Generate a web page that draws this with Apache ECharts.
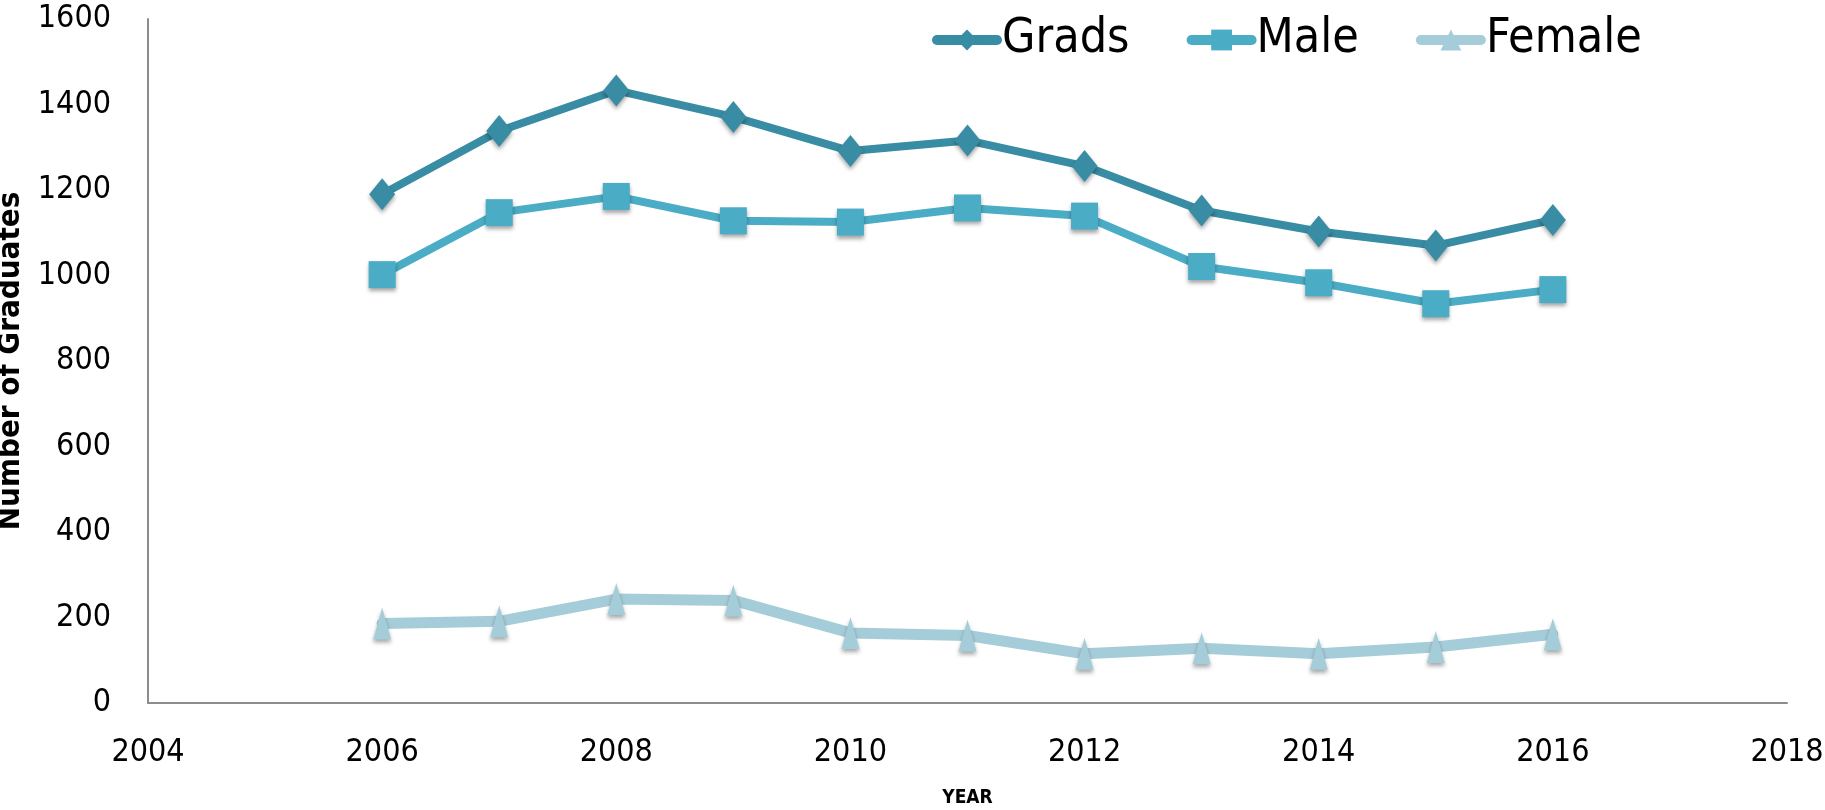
<!DOCTYPE html>
<html>
<head>
<meta charset="utf-8">
<script src="https://cdn.jsdelivr.net/npm/echarts@6/dist/echarts.min.js"></script>
<style>
  html, body { margin: 0; padding: 0; background: #fff; }
  #chart { width: 1825px; height: 810px; }
</style>
</head>
<body>
<div id="chart"></div>
<script>
// values
const years = [2006, 2007, 2008, 2009, 2010, 2011, 2012, 2013, 2014, 2015, 2016];
const grads = [1190, 1338, 1433, 1371, 1291, 1316, 1256, 1152, 1103, 1070, 1130];
const male = [1002, 1147, 1185, 1128, 1125, 1158, 1139, 1021, 983, 934, 967];
const female = [186, 191, 243, 240, 164, 158, 115, 128, 115, 131, 161];

const pairs = (vals) => years.map((y, i) => [y, vals[i]]);
const narrow = "'DejaVu Sans Condensed', 'Liberation Sans', sans-serif";

const shadow = {
  shadowBlur: 4,
  shadowOffsetY: 3,
  shadowColor: "rgba(0,0,0,0.35)"
};

const chart = echarts.init(document.getElementById("chart"));

chart.setOption({
  animation: false,
  grid: { left: 148, right: 38, top: 19, bottom: 107, outerBoundsMode: "none" },
  legend: {
    left: 927,
    top: 11,
    itemWidth: 60,
    itemHeight: 26,
    itemGap: 57,
    lineStyle: { width: 10, cap: "round" },
    textStyle: {
      fontFamily: narrow,
      fontSize: 48,
      color: "#000"
    },
    data: ["Grads", "Male", "Female"]
  },
  xAxis: {
    type: "value",
    min: 2004,
    max: 2018,
    interval: 2,
    name: "YEAR",
    nameLocation: "middle",
    nameGap: 86,
    nameTextStyle: {
      fontFamily: narrow,
      fontWeight: "bold",
      fontSize: 19,
      color: "#000"
    },
    axisLine: { lineStyle: { color: "#8c8c8c", width: 2 } },
    axisTick: { show: false },
    splitLine: { show: false },
    axisLabel: {
      margin: 34,
      fontFamily: narrow,
      fontSize: 32,
      color: "#000",
      formatter: (v) => String(v)
    }
  },
  yAxis: {
    type: "value",
    min: 0,
    max: 1600,
    interval: 200,
    name: "Number of Graduates",
    nameLocation: "middle",
    nameGap: 118,
    nameTextStyle: {
      fontFamily: narrow,
      fontWeight: "bold",
      fontSize: 31,
      color: "#000"
    },
    axisLine: { show: true, lineStyle: { color: "#8c8c8c", width: 2 } },
    axisTick: { show: false },
    splitLine: { show: false },
    axisLabel: {
      margin: 37,
      fontFamily: narrow,
      fontSize: 32,
      color: "#000",
      formatter: (v) => String(v)
    }
  },
  series: [
    {
      name: "Grads",
      type: "line",
      data: pairs(grads),
      symbol: "diamond",
      symbolSize: [26, 32],
      lineStyle: { color: "#388ca3", width: 8, cap: "round" },
      itemStyle: Object.assign({ color: "#388ca3" }, shadow),
      z: 4
    },
    {
      name: "Male",
      type: "line",
      data: pairs(male),
      symbol: "rect",
      symbolSize: 27,
      lineStyle: { color: "#4aacc5", width: 8, cap: "round" },
      itemStyle: Object.assign({ color: "#4aacc5" }, shadow),
      z: 3
    },
    {
      name: "Female",
      type: "line",
      data: pairs(female),
      symbol: "triangle",
      symbolSize: [18, 32],
      lineStyle: { color: "#a5cdd9", width: 11, cap: "round" },
      itemStyle: Object.assign({ color: "#a5cdd9" }, shadow),
      z: 2
    }
  ]
});
</script>
</body>
</html>
